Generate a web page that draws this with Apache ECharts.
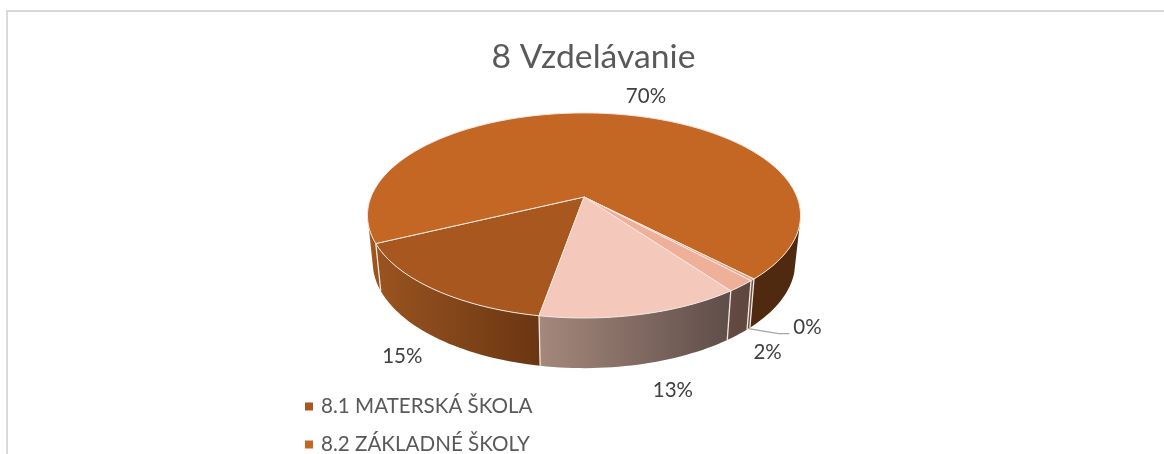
<!DOCTYPE html>
<html><head><meta charset="utf-8">
<style>html,body{margin:0;padding:0;background:#fff}#c{width:1164px;height:454px}</style>
<script src="https://cdn.jsdelivr.net/npm/echarts@6/dist/echarts.min.js"></script>
</head><body><div id="c"></div>
<script>
const titleText = '8 Vzdelávanie';
const sliceNames = ['8.1 MATERSKÁ ŠKOLA', '8.2 ZÁKLADNÉ ŠKOLY', '8.3', '8.4', '8.5'];
const legendNames = ['8.1 MATERSKÁ ŠKOLA', '8.2 ZÁKLADNÉ ŠKOLY'];
const sliceValues = [15.1, 69.9, 0.3, 1.9, 12.8];
const topColors = ['#a8571e', '#c46725', '#e9a98c', '#efb09a', '#f4c9bc'];
const wallFrom = ['#9a5420', '#4f2a10', '#6a5048', '#634a42', '#a5887c'];
const wallTo = ['#6a3612', '#4f2a10', '#6a5048', '#5f4640', '#5f4d49'];
const labelOffsets = [[-35, 18], [30, -18], [59, -1], [30, 17], [32, 26]];

// projection of the tilted disc
const CX = 584, CY = 197, A = 213, B = 99.2, K = 0.18, START = 190;
const project = (deg, lower) => {
  const r = deg * Math.PI / 180, X = Math.sin(r), d = -Math.cos(r), w = 1 - K * d;
  const sx = A * X / w, sy = B * d / w;
  return lower ? [CX + 0.976 * sx, CY + 45.8 + 1.036 * sy] : [CX + sx, CY + sy];
};
const total = sliceValues.reduce((a, b) => a + b, 0);
const bounds = [START];
sliceValues.forEach(v => bounds.push(bounds[bounds.length - 1] + v / total * 360));
const arc = (a, b, lower) => {
  const n = Math.max(2, Math.ceil(Math.abs(b - a) / 1.5)), out = [];
  for (let i = 0; i <= n; i++) out.push(project(a + (b - a) * i / n, lower));
  return out;
};
const grad = (c1, c2) => ({type: 'linear', x: 0, y: 0, x2: 1, y2: 0, colorStops: [{offset: 0, color: c1}, {offset: 1, color: c2}]});
const EDGE = '#f3e6df';
// visible wall windows in clockwise degrees from the top: the rim runs over [t0,t1], the base over [l0,l1]
const FRONT = [{t0: 105, t1: 254, l0: 106, l1: 255}, {t0: 465, t1: 614, l0: 466, l1: 615}];

const renderWalls = (params, api) => {
  const i = api.value(0), a = bounds[i], b = bounds[i + 1], children = [];
  FRONT.forEach(({t0, t1, l0, l1}) => {
    const s = Math.max(a, t0), e = Math.min(b, t1);
    const ls = Math.max(a, l0), le = Math.min(b, l1);
    if (e <= s || le <= ls) return;
    const pts = arc(s, e, false).concat(arc(le, ls, true));
    const fill = i === 1 && e < 360 ? grad('#a55a20', '#94501c') : grad(wallFrom[i], wallTo[i]);
    children.push({type: 'polygon', shape: {points: pts}, style: {fill}, silent: true});
  });
  children.push({type: 'polyline', shape: {points: [project(bounds[i], false), project(bounds[i], true)]}, style: {stroke: EDGE, lineWidth: 1.3, fill: null}, silent: true, z2: 5});
  return {type: 'group', children};
};
const renderTop = i => () => {
  const a = bounds[i], b = bounds[i + 1];
  const pts = [[CX, CY]].concat(arc(a, b, false));
  return {type: 'polygon', shape: {points: pts}, style: {fill: topColors[i], stroke: EDGE, lineWidth: 1}, silent: true};
};
const renderLabel = (params, api) => {
  const i = api.value(0), mid = (bounds[i] + bounds[i + 1]) / 2;
  const base = project(mid, i !== 1);
  const pos = [base[0] + labelOffsets[i][0], base[1] + labelOffsets[i][1]];
  const children = [{type: 'text', style: {x: pos[0], y: pos[1], text: Math.round(sliceValues[i]) + '%', align: 'center', verticalAlign: 'middle', fill: '#404040', font: '20.5px Lato'}, silent: true}];
  if (sliceValues[i] < 1) {
    children.push({type: 'polyline', shape: {points: [base, [base[0] + 30, base[1] + 5], [base[0] + 41, base[1] + 5]]}, style: {stroke: '#a6a6a6', lineWidth: 1.3, fill: null}, silent: true});
  }
  return {type: 'group', children};
};

const series = [{type: 'custom', name: 'walls', coordinateSystem: 'none', silent: true, animation: false, clip: false, z: 1, data: sliceValues.map((v, i) => [i, v]), renderItem: renderWalls}];
sliceNames.forEach((name, i) => series.push({type: 'custom', name, coordinateSystem: 'none', silent: true, animation: false, z: 2, itemStyle: {color: topColors[i]}, data: [[i, sliceValues[i]]], renderItem: renderTop(i)}));
series.push({type: 'custom', name: 'labels', coordinateSystem: 'none', silent: true, animation: false, z: 3, data: sliceValues.map((v, i) => [i, v]), renderItem: renderLabel});

const legendRow = (name, top) => ({data: [name], left: 300, top, itemWidth: 8, itemHeight: 8, icon: 'rect', selectedMode: false, textStyle: {fontFamily: 'Lato', fontSize: 20.6, color: '#595959', padding: [0, 0, 0, 3]}});
const chart = echarts.init(document.getElementById('c'), null, {renderer: 'canvas'});
chart.setOption({
  animation: false,
  backgroundColor: '#fff',
  title: {text: titleText, left: 588.5, top: 35, textAlign: 'center', textStyle: {fontFamily: 'Lato', fontSize: 33.7, fontWeight: 'normal', color: '#595959'}},
  legend: [legendRow(legendNames[0], 391), legendRow(legendNames[1], 429)],
  graphic: [
    {type: 'line', shape: {x1: 6, y1: 11, x2: 1164, y2: 11}, style: {stroke: '#d9d9d9', lineWidth: 2}, silent: true},
    {type: 'line', shape: {x1: 7, y1: 10, x2: 7, y2: 454}, style: {stroke: '#d9d9d9', lineWidth: 2}, silent: true}
  ],
  series
});
</script></body></html>
